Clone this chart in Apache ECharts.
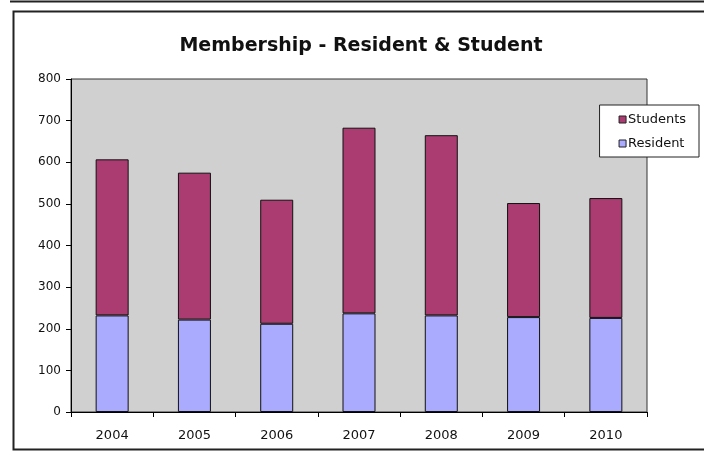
<!DOCTYPE html>
<html><head><meta charset="utf-8">
<script src="https://cdn.jsdelivr.net/npm/echarts@6/dist/echarts.min.js"></script>
<style>html,body{margin:0;padding:0;background:#fff}#c{width:704px;height:452px}</style>
</head><body><div id="c"></div>
<script>
const categories = ['2004','2005','2006','2007','2008','2009','2010'];
const resident = [232,222,212,237,232,228,226];
const students = [375,353,298,446,433,274,288];
const yTicks = {min:0, max:800, interval:100};

const chart = echarts.init(document.getElementById('c'), null, {renderer:'canvas'});
const font = 'DejaVu Sans, Verdana, sans-serif';
chart.setOption({
  animation:false,
  backgroundColor:'#fff',
  title:{text:'Membership - Resident & Student', left:356, top:32, textAlign:'center',
    textStyle:{fontFamily:font, fontSize:19, fontWeight:'bold', color:'#111'}},
  graphic:[
    {type:'rect', shape:{x:13.5, y:11.5, width:700, height:438}, style:{fill:null, stroke:'#222', lineWidth:2}, z:100},
    {type:'line', shape:{x1:10, y1:1.5, x2:704, y2:1.5}, style:{stroke:'#222', lineWidth:2}, z:100}
  ],
  grid:{left:71, right:57, top:79, bottom:40, show:true, backgroundColor:'#d0d0d0', borderColor:'#333', borderWidth:1},
  legend:{right:5, top:105, orient:'vertical', icon:'rect', itemWidth:7, itemHeight:7, itemGap:11,
    backgroundColor:'#fff', borderColor:'#222', borderWidth:1, padding:[8,13,7,19],
    textStyle:{fontFamily:font, fontSize:13, color:'#111', padding:[0,0,0,-3]},
    data:[{name:'Students', itemStyle:{borderColor:'#222', borderWidth:1}}, {name:'Resident', itemStyle:{borderColor:'#222', borderWidth:1}}]},
  xAxis:{type:'category', data:categories,
    axisLine:{lineStyle:{color:'#000', width:1}},
    axisTick:{show:true, length:5, inside:false, lineStyle:{color:'#000'}},
    axisLabel:{fontFamily:font, fontSize:13, color:'#111', margin:17}},
  yAxis:{type:'value', min:yTicks.min, max:yTicks.max, interval:yTicks.interval,
    splitLine:{show:false},
    axisLine:{show:true, lineStyle:{color:'#000', width:1}},
    axisTick:{show:true, length:5, lineStyle:{color:'#000'}},
    axisLabel:{fontFamily:font, fontSize:12, color:'#111', margin:10}},
  series:[
    {name:'Resident', type:'bar', stack:'m', data:resident, barWidth:33,
      itemStyle:{color:'#aaaaff', borderColor:'#111', borderWidth:1}},
    {name:'Students', type:'bar', stack:'m', data:students, barWidth:33,
      itemStyle:{color:'#ab3c72', borderColor:'#111', borderWidth:1}}
  ]
});
</script></body></html>
